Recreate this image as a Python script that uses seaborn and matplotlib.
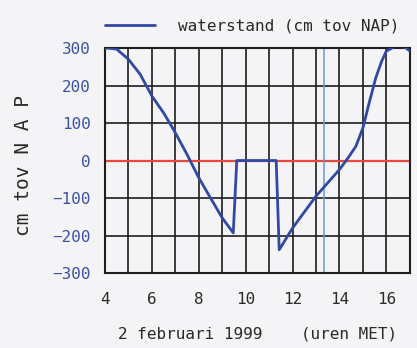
import matplotlib
matplotlib.use("Agg")
import matplotlib.pyplot as plt
import seaborn as sns
import pandas as pd
import numpy as np

# data
hours = [4.0, 4.25, 4.5, 5.0, 5.5, 6.0, 6.5, 7.0, 7.5, 8.0, 8.5, 9.0, 9.47, 9.62,
         11.3, 11.43, 12.0, 13.0, 14.0, 14.4, 14.7, 15.0, 15.25, 15.55, 15.8,
         16.0, 16.4, 16.8, 17.0]
level = [300, 299, 297, 270, 230, 172, 127, 74, 16, -46, -100, -153, -193, 0,
         0, -238, -180, -95, -24, 10, 38, 87, 150, 221, 265,
         292, 305, 302, 292]
x_ticks = [4, 6, 8, 10, 12, 14, 16]
y_ticks = [-300, -200, -100, 0, 100, 200, 300]
now_hour = 13.35
series_label = "waterstand (cm tov NAP)"
x_label = "2 februari 1999    (uren MET)"
y_label = "cm tov N A P"

df = pd.DataFrame({"uur": hours, "waterstand": level})

sns.set_theme(style="white")
plt.rcParams["font.family"] = ["DejaVu Sans Mono", "DejaVu Sans"]

bg = "#f4f3f6"
fig = plt.figure(figsize=(4.17, 3.48), dpi=100, facecolor=bg)
ax = fig.add_axes([0.2518, 0.2155, 0.731, 0.6465])
ax.set_facecolor(bg)

ax.set_xlim(4, 17)
ax.set_ylim(-300, 300)
ax.set_xticks(x_ticks)
ax.set_xticks(np.arange(4, 18, 1), minor=True)
ax.set_yticks(y_ticks)
ax.grid(True, which="both", axis="x", color="#1e1e1e", linewidth=1.2)
ax.grid(True, which="major", axis="y", color="#1e1e1e", linewidth=1.2)
ax.set_axisbelow(True)

ax.axhline(0, color="#e8473f", linewidth=1.6, zorder=2)
ax.axvline(now_hour, color="#6a98d8", linewidth=1.1, zorder=2)

sns.lineplot(data=df, x="uur", y="waterstand", ax=ax, color="#3149a3",
             linewidth=2.0, sort=False, estimator=None, label=series_label, zorder=3)

for s in ax.spines.values():
    s.set_color("#1e1e1e")
    s.set_linewidth(1.5)

ax.tick_params(axis="both", which="both", length=0)
ax.tick_params(axis="y", colors="#3a52a8", labelsize=11.5, pad=10)
ax.tick_params(axis="x", colors="#2a2a2a", labelsize=11.5, pad=14)
ax.set_xlabel(x_label, fontsize=11.5, color="#2a2a2a", labelpad=14)
ax.set_ylabel(y_label, fontsize=14, color="#2a2a2a")
ax.yaxis.set_label_coords(-0.235, 0.48)

leg = ax.legend(loc="lower left", bbox_to_anchor=(-0.026, 1.03), frameon=False,
                handlelength=3.1, handletextpad=1.45, borderaxespad=0.2,
                borderpad=0.3, fontsize=11.5)
for t in leg.get_texts():
    t.set_color("#2a2a2a")

fig.savefig("out.png", dpi=100, facecolor=bg)
